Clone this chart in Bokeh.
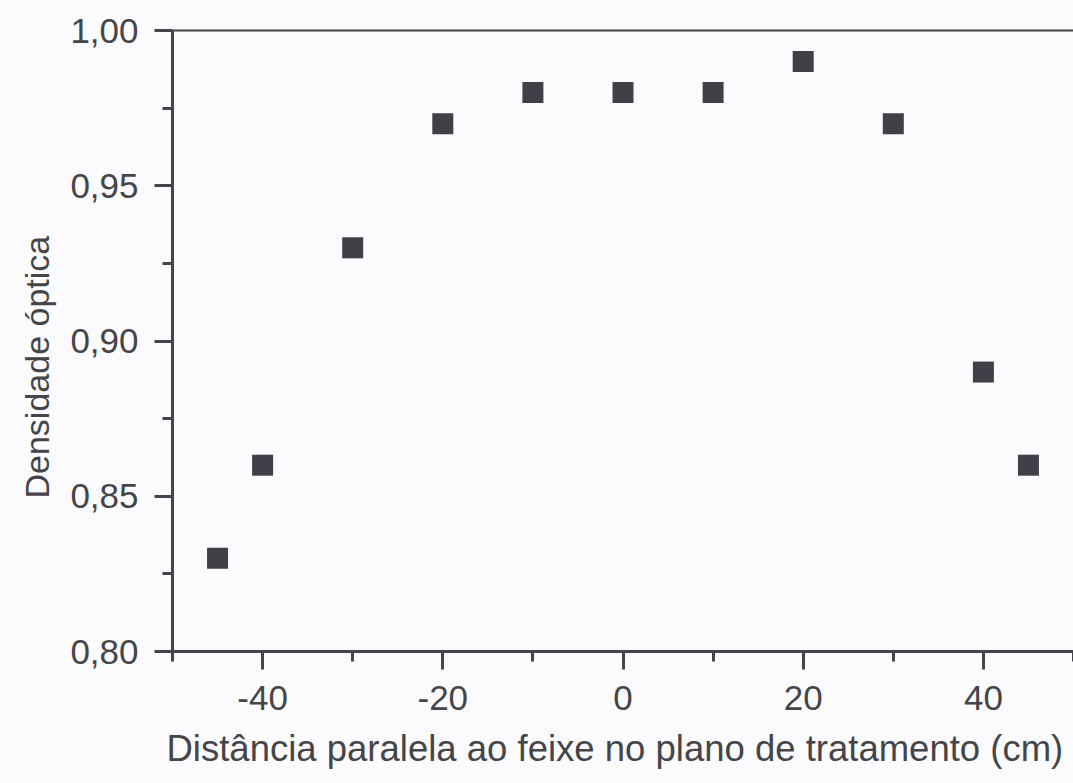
from bokeh.plotting import figure
from bokeh.models import (ColumnDataSource, FixedTicker, CustomJSTickFormatter,
                          LinearAxis, Title, Range1d)
from bokeh.embed import file_html
from bokeh.resources import INLINE

# Optical density measured along the beam, in the treatment plane
distance_cm = [-45, -40, -30, -20, -10, 0, 10, 20, 30, 40, 45]
optical_density = [0.83, 0.86, 0.93, 0.97, 0.98, 0.98, 0.98, 0.99, 0.97, 0.89, 0.86]

x_major = [-40, -20, 0, 20, 40]
x_minor = [-50, -30, -10, 10, 30, 50]
y_major = [0.80, 0.85, 0.90, 0.95, 1.00]
y_minor = [0.825, 0.875, 0.925, 0.975]

INK = "#454549"
MARK = "#404048"
FONT = "Liberation Sans"
BG = "#fbfbfd"

src = ColumnDataSource(data=dict(x=distance_cm, y=optical_density))

p = figure(width=1073, height=783, output_backend="svg", toolbar_location=None,
           x_range=Range1d(-50, 50), y_range=Range1d(0.80, 1.00),
           x_axis_location=None, y_axis_location=None,
           min_border_left=172, min_border_right=0, min_border_top=30,
           min_border_bottom=132)
p.background_fill_color = BG
p.border_fill_color = BG
p.outline_line_color = None
p.grid.visible = False

def style_axis(ax):
    ax.axis_line_color = INK
    ax.axis_line_width = 3
    ax.major_tick_line_color = INK
    ax.major_tick_line_width = 3
    ax.minor_tick_line_color = INK
    ax.minor_tick_line_width = 3
    ax.major_tick_in = 0
    ax.major_tick_out = 18
    ax.minor_tick_in = 0
    ax.minor_tick_out = 10
    ax.major_label_text_font = FONT
    ax.major_label_text_font_size = "35px"
    ax.major_label_text_color = INK

xaxis = LinearAxis(ticker=FixedTicker(ticks=x_major, minor_ticks=x_minor),
                   formatter=CustomJSTickFormatter(code="return tick.toString();"))
style_axis(xaxis)
xaxis.major_label_standoff = 16
p.add_layout(xaxis, "below")

yaxis = LinearAxis(ticker=FixedTicker(ticks=y_major, minor_ticks=y_minor),
                   formatter=CustomJSTickFormatter(code="return tick.toFixed(2).replace('.', ',');"))
style_axis(yaxis)
yaxis.major_label_standoff = 16
yaxis.major_label_orientation = "horizontal"
p.add_layout(yaxis, "left")

# plain frame line along the top
top = LinearAxis(ticker=FixedTicker(ticks=[]), major_tick_line_color=None,
                 minor_tick_line_color=None, major_label_text_font_size="0px")
top.axis_line_color = INK
top.axis_line_width = 2
p.add_layout(top, "above")

# axis titles, placed as side-panel titles so they can be nudged along the axis
xtitle = Title(text="Distância paralela ao feixe no plano de tratamento (cm)",
               align="left", offset=-6, standoff=26,
               text_font=FONT, text_font_size="36.5px", text_font_style="normal",
               text_color=INK)
p.add_layout(xtitle, "below")

ytitle = Title(text="Densidade óptica", align="left", offset=153, standoff=20,
               vertical_align="top",
               text_font=FONT, text_font_size="34px", text_font_style="normal",
               text_color=INK)
p.add_layout(ytitle, "left")

p.scatter("x", "y", source=src, marker="square", size=21,
          fill_color=MARK, line_color=None)

open("out.html", "w").write(file_html(p, INLINE))
